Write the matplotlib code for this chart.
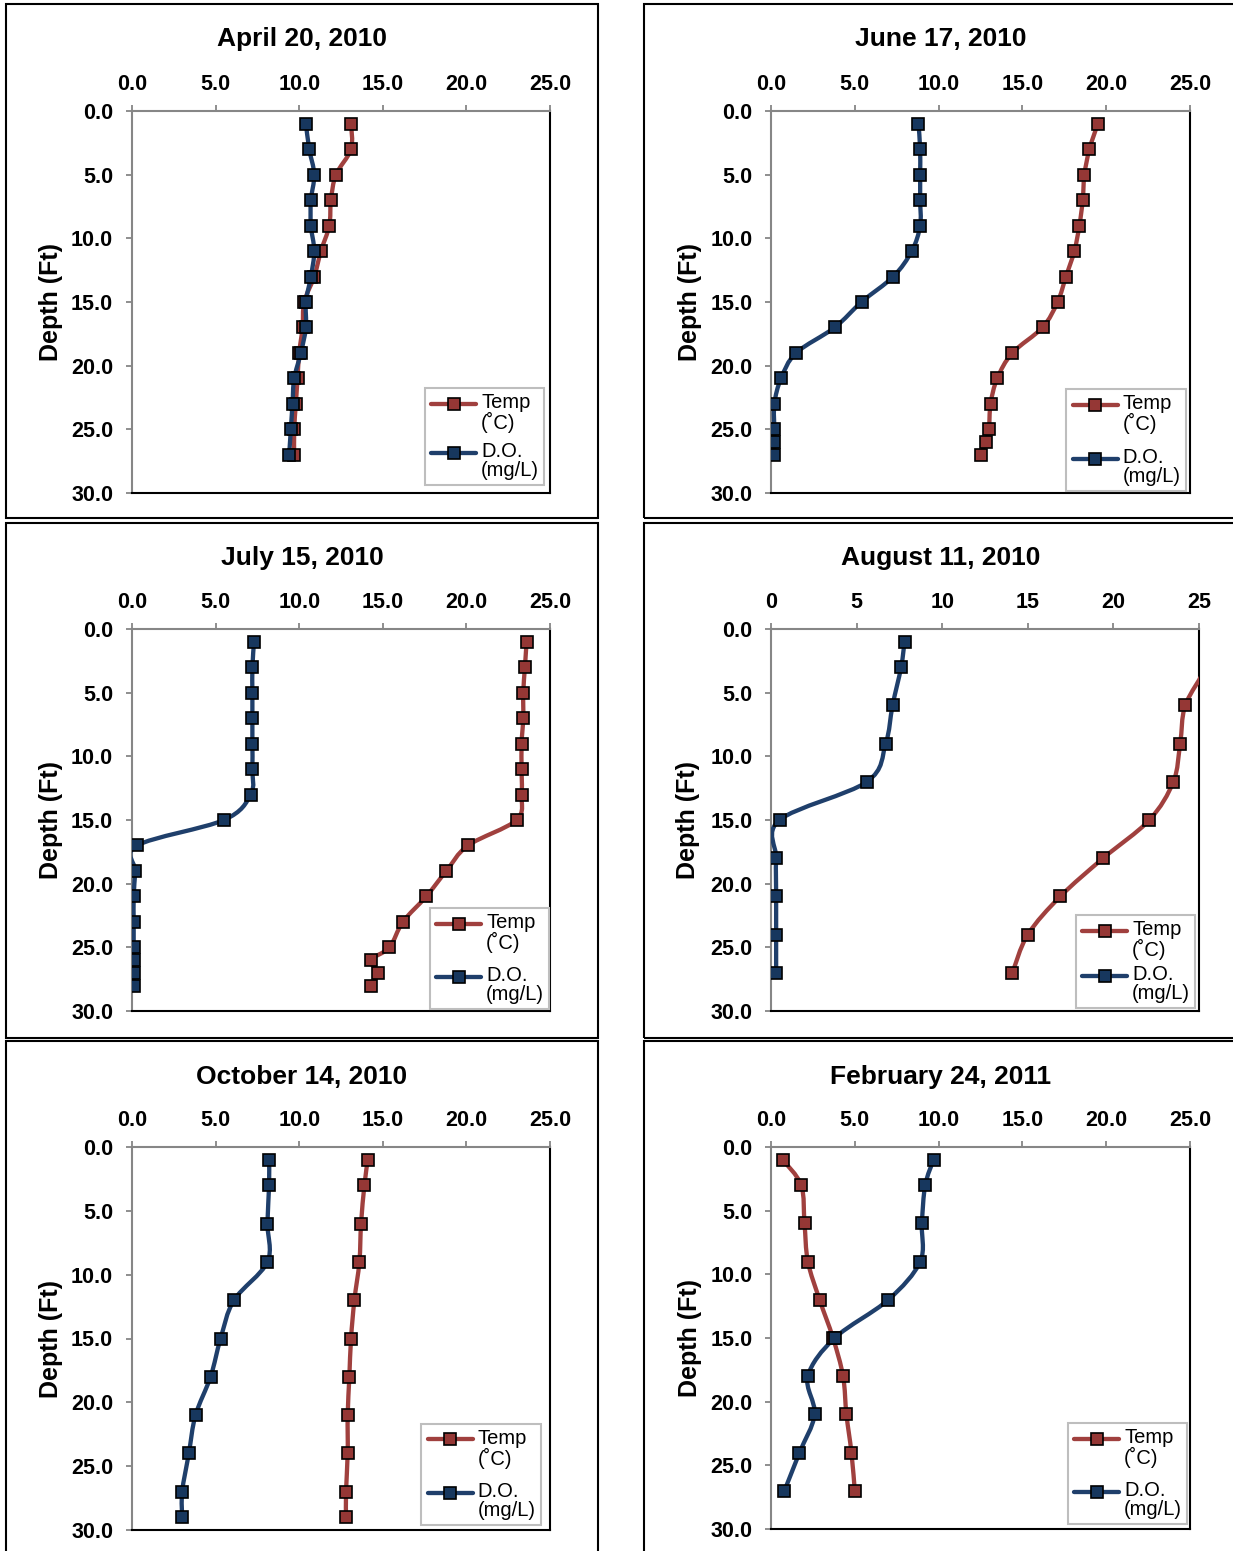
import numpy as np
import matplotlib
matplotlib.use("Agg")
import matplotlib.pyplot as plt
from matplotlib.path import Path
from matplotlib.patches import PathPatch, Rectangle
from matplotlib.lines import Line2D
from matplotlib.ticker import FormatStrFormatter, MultipleLocator
from matplotlib.offsetbox import AnchoredOffsetbox, DrawingArea, HPacker, TextArea, VPacker

plt.rcParams["font.family"] = ["Liberation Sans", "DejaVu Sans"]

# depth (ft) and readings per sampling date
titles = ["April 20, 2010", "June 17, 2010", "July 15, 2010",
          "August 11, 2010", "October 14, 2010", "February 24, 2011"]
legend_labels = ["Temp\n(˚C)", "D.O.\n(mg/L)"]

depth_apr = [1, 3, 5, 7, 9, 11, 13, 15, 17, 19, 21, 23, 25, 27]
temp_apr = [13.1, 13.1, 12.2, 11.9, 11.8, 11.3, 10.9, 10.3, 10.2, 10.0, 9.9, 9.8, 9.7, 9.7]
do_apr = [10.4, 10.6, 10.9, 10.7, 10.7, 10.9, 10.7, 10.4, 10.4, 10.1, 9.7, 9.6, 9.5, 9.4]

depth_jun = [1, 3, 5, 7, 9, 11, 13, 15, 17, 19, 21, 23, 25, 26, 27]
temp_jun = [19.5, 19.0, 18.7, 18.6, 18.4, 18.1, 17.6, 17.1, 16.2, 14.4, 13.5, 13.1, 13.0, 12.8, 12.5]
do_jun = [8.8, 8.9, 8.9, 8.9, 8.9, 8.4, 7.3, 5.4, 3.8, 1.5, 0.6, 0.2, 0.2, 0.2, 0.2]

depth_jul = [1, 3, 5, 7, 9, 11, 13, 15, 17, 19, 21, 23, 25, 26, 27, 28]
temp_jul = [23.6, 23.5, 23.4, 23.4, 23.3, 23.3, 23.3, 23.0, 20.1, 18.8, 17.6, 16.2, 15.4, 14.3, 14.7, 14.3]
do_jul = [7.3, 7.2, 7.2, 7.2, 7.2, 7.2, 7.1, 5.5, 0.3, 0.2, 0.1, 0.1, 0.1, 0.1, 0.1, 0.1]

depth_aug = [1, 3, 6, 9, 12, 15, 18, 21, 24, 27]
temp_aug = [25.6, 25.4, 24.2, 23.9, 23.5, 22.1, 19.4, 16.9, 15.0, 14.1]
do_aug = [7.8, 7.6, 7.1, 6.7, 5.6, 0.5, 0.3, 0.3, 0.3, 0.3]

depth_oct = [1, 3, 6, 9, 12, 15, 18, 21, 24, 27, 29]
temp_oct = [14.1, 13.9, 13.7, 13.6, 13.3, 13.1, 13.0, 12.9, 12.9, 12.8, 12.8]
do_oct = [8.2, 8.2, 8.1, 8.1, 6.1, 5.3, 4.7, 3.8, 3.4, 3.0, 3.0]

depth_feb = [1, 3, 6, 9, 12, 15, 18, 21, 24, 27]
temp_feb = [0.7, 1.8, 2.0, 2.2, 2.9, 3.7, 4.3, 4.5, 4.8, 5.0]
do_feb = [9.7, 9.2, 9.0, 8.9, 7.0, 3.8, 2.2, 2.6, 1.7, 0.8]

W, H = 1233, 1551
RED_LINE, RED_FILL = "#A0403E", "#953735"
BLUE_LINE, BLUE_FILL = "#1F3F6B", "#17375E"
GRAY = "#868686"
LW = 3.1
MS = 8.5

# pixel layout: axes box, chart frame, title, legend anchor, legend row gap (pt)
panels = [
    dict(d=depth_apr, t=temp_apr, o=do_apr, ax=(132, 111, 550, 493), fr=(6, 4, 598, 518),
         tx=302, ty=46, leg=(0.986, 0.021), gap=6.5, fmt="%.1f"),
    dict(d=depth_jun, t=temp_jun, o=do_jun, ax=(771, 111, 1190, 493), fr=(644, 4, 1250, 518),
         tx=941, ty=46, leg=(0.990, 0.005), gap=10, fmt="%.1f"),
    dict(d=depth_jul, t=temp_jul, o=do_jul, ax=(132, 629, 550, 1011), fr=(6, 523, 598, 1038),
         tx=302, ty=565, leg=(0.998, 0.005), gap=9.5, fmt="%.1f"),
    dict(d=depth_aug, t=temp_aug, o=do_aug, ax=(771, 629, 1199, 1011), fr=(644, 523, 1250, 1038),
         tx=941, ty=565, leg=(0.991, 0.008), gap=3.5, fmt="%d"),
    dict(d=depth_oct, t=temp_oct, o=do_oct, ax=(132, 1147, 550, 1530), fr=(6, 1041, 598, 1570),
         tx=302, ty=1084, leg=(0.978, 0.013), gap=9.5, fmt="%.1f"),
    dict(d=depth_feb, t=temp_feb, o=do_feb, ax=(771, 1147, 1190, 1529), fr=(644, 1041, 1250, 1570),
         tx=941, ty=1084, leg=(0.993, 0.013), gap=9, fmt="%.1f"),
]


def smooth_path(x, y):
    # Excel-like smoothed line: cubic Bezier through each point
    pts = np.column_stack([x, y]).astype(float)
    n = len(pts)
    verts = [pts[0]]
    codes = [Path.MOVETO]
    for i in range(n - 1):
        p0 = pts[max(i - 1, 0)]
        p1 = pts[i]
        p2 = pts[i + 1]
        p3 = pts[min(i + 2, n - 1)]
        verts += [p1 + (p2 - p0) / 6, p2 - (p3 - p1) / 6, p2]
        codes += [Path.CURVE4] * 3
    return Path(verts, codes)


def draw_series(ax, x, y, line_c, fill_c):
    ax.add_patch(PathPatch(smooth_path(x, y), facecolor="none", edgecolor=line_c,
                           lw=LW, capstyle="round", joinstyle="round", zorder=3))
    ax.plot(x, y, linestyle="none", marker="s", markersize=MS, markerfacecolor=fill_c,
            markeredgecolor="black", markeredgewidth=1.2, zorder=4)


def legend_row(label, line_c, fill_c):
    hw, hh = 34.5, 15.5
    da = DrawingArea(hw, hh, 0, 0)
    da.add_artist(Line2D([1, hw - 1], [hh / 2, hh / 2], color=line_c, lw=LW,
                         solid_capstyle="round"))
    da.add_artist(Line2D([hw / 2], [hh / 2], linestyle="none", marker="s", markersize=MS,
                         markerfacecolor=fill_c, markeredgecolor="black",
                         markeredgewidth=1.2))
    txt = TextArea(label, textprops=dict(fontsize=14.5, linespacing=1.0))
    return HPacker(children=[da, txt], align="top", pad=0, sep=2.5)


fig = plt.figure(figsize=(W / 100, H / 100), dpi=100)

for i, p in enumerate(panels):
    l, t, r, b = p["fr"]
    fig.patches.append(Rectangle((l / W, 1 - b / H), (r - l) / W, (b - t) / H,
                                 transform=fig.transFigure, fill=False,
                                 edgecolor="black", lw=1.5))
    fig.text(p["tx"] / W, 1 - p["ty"] / H, titles[i], ha="center", va="baseline",
             fontsize=19, fontweight="bold")

    l, t, r, b = p["ax"]
    ax = fig.add_axes([l / W, 1 - b / H, (r - l) / W, (b - t) / H])
    draw_series(ax, p["t"], p["d"], RED_LINE, RED_FILL)
    draw_series(ax, p["o"], p["d"], BLUE_LINE, BLUE_FILL)

    ax.set_xlim(0, 25)
    ax.set_ylim(30, 0)
    ax.xaxis.set_major_locator(MultipleLocator(5))
    ax.yaxis.set_major_locator(MultipleLocator(5))
    ax.xaxis.set_major_formatter(FormatStrFormatter(p["fmt"]))
    ax.yaxis.set_major_formatter(FormatStrFormatter("%.1f"))
    ax.xaxis.tick_top()
    ax.tick_params(axis="both", direction="out", length=4, width=1.3, color=GRAY,
                   labelsize=15.5, pad=7.5)
    ax.tick_params(axis="y", pad=9.5)
    for lab in ax.get_xticklabels() + ax.get_yticklabels():
        lab.set_fontweight("bold")
    for side in ["left", "top"]:
        ax.spines[side].set_color(GRAY)
        ax.spines[side].set_linewidth(1.5)
    for side in ["right", "bottom"]:
        ax.spines[side].set_color("black")
        ax.spines[side].set_linewidth(1.5)
    ax.set_ylabel("Depth (Ft)", fontsize=18, fontweight="bold")
    ax.yaxis.set_label_coords(-0.165, 0.5)

    rows = VPacker(children=[legend_row(legend_labels[0], RED_LINE, RED_FILL),
                             legend_row(legend_labels[1], BLUE_LINE, BLUE_FILL)],
                   align="left", pad=0, sep=p["gap"])
    box = AnchoredOffsetbox(loc="lower right", child=rows, pad=0.25, borderpad=0,
                            prop=dict(size=14.5), frameon=True,
                            bbox_to_anchor=p["leg"], bbox_transform=ax.transAxes)
    box.patch.set_edgecolor("#BEBEBE")
    box.patch.set_linewidth(1.5)
    box.patch.set_facecolor("white")
    box.set_zorder(5)
    ax.add_artist(box)

fig.savefig("out.png", dpi=100)
